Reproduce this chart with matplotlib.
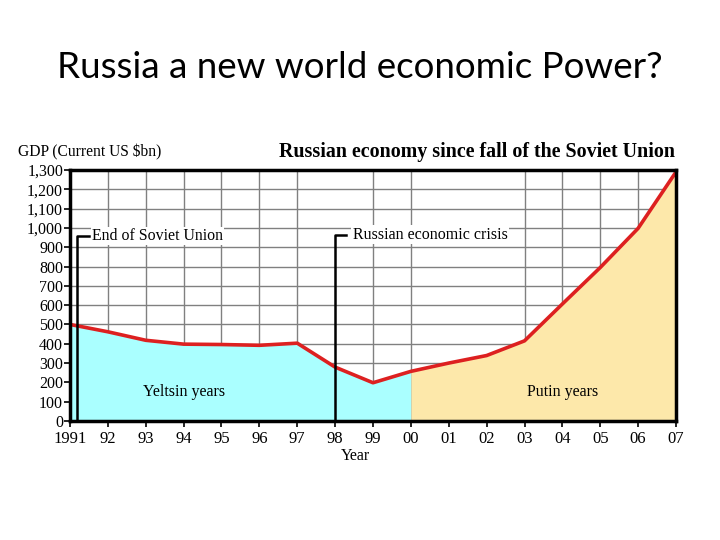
import matplotlib.pyplot as plt

years = [1991, 1992, 1993, 1994, 1995, 1996, 1997, 1998, 1999,
         2000, 2001, 2002, 2003, 2004, 2005, 2006, 2007]
gdp = [500, 462, 418, 398, 396, 392, 403, 279, 198,
       257, 300, 339, 415, 606, 795, 998, 1290]
year_labels = ['1991', '92', '93', '94', '95', '96', '97', '98', '99',
               '00', '01', '02', '03', '04', '05', '06', '07']
y_ticks = list(range(0, 1400, 100))

serif = 'Liberation Serif'

fig = plt.figure(figsize=(7.2, 5.4), dpi=100)
fig.text(0.5, 0.875, 'Russia a new world economic Power?', ha='center', va='center',
         fontsize=26.5, family='Lato')

ax = fig.add_axes([0.0972, 0.2204, 0.8417, 0.4648])
ax.set_xlim(1991, 2007)
ax.set_ylim(0, 1300)

# grid (no vertical lines at 01 and 02 in the original)
for y in y_ticks[1:-1]:
    ax.axhline(y, color='#808080', lw=1, zorder=1)
for yr in years[1:-1]:
    if yr in (1998, 2001, 2002):
        continue
    ax.axvline(yr, color='#808080', lw=1, zorder=1)

# shaded eras
i00 = years.index(2000)
ax.fill_between(years[:i00 + 1], gdp[:i00 + 1], 0, color='#aaffff', lw=0, zorder=2)
ax.fill_between(years[i00:], gdp[i00:], 0, color='#fde8aa', lw=0, zorder=2)
ax.plot(years, gdp, color='#dd2020', lw=2.6, zorder=4)

# event markers
ax.plot([1991.18, 1991.18, 1991.5], [0, 958, 958], color='black', lw=1.8, zorder=5)
ax.text(1991.58, 958, 'End of Soviet Union', family=serif, fontsize=11.4, va='center',
        ha='left', zorder=6, bbox=dict(facecolor='white', edgecolor='none', pad=1))
ax.plot([1998, 1998, 1998.3], [0, 965, 965], color='black', lw=1.8, zorder=5)
ax.text(1998.47, 965, 'Russian economic crisis', family=serif, fontsize=11.5, va='center',
        ha='left', zorder=6, bbox=dict(facecolor='white', edgecolor='none', pad=1))

ax.text(1994, 150, 'Yeltsin years', family=serif, fontsize=11.5, ha='center', va='center', zorder=6)
ax.text(2004, 150, 'Putin years', family=serif, fontsize=11.5, ha='center', va='center', zorder=6)

ax.set_xticks(years)
ax.set_xticklabels(year_labels, family=serif, fontsize=12)
ax.set_yticks(y_ticks)
ax.set_yticklabels([f'{v:,}' for v in y_ticks], family=serif, fontsize=11.5)
ax.tick_params(axis='both', length=4, width=1.2)
ax.tick_params(axis='y', pad=1)
ax.tick_params(axis='x', pad=3.5)
for s in ax.spines.values():
    s.set_linewidth(2.5)
    s.set_zorder(7)

fig.text(0.494, 0.156, 'Year', family=serif, fontsize=11.5, ha='center', va='center')
fig.text(0.025, 0.718, 'GDP (Current US \\$bn)', family=serif, fontsize=11.2,
         ha='left', va='center')
fig.text(0.662, 0.718, 'Russian economy since fall of the Soviet Union', family=serif,
         fontsize=14.4, fontweight='bold', ha='center', va='center')

fig.savefig('out.png', dpi=100)
